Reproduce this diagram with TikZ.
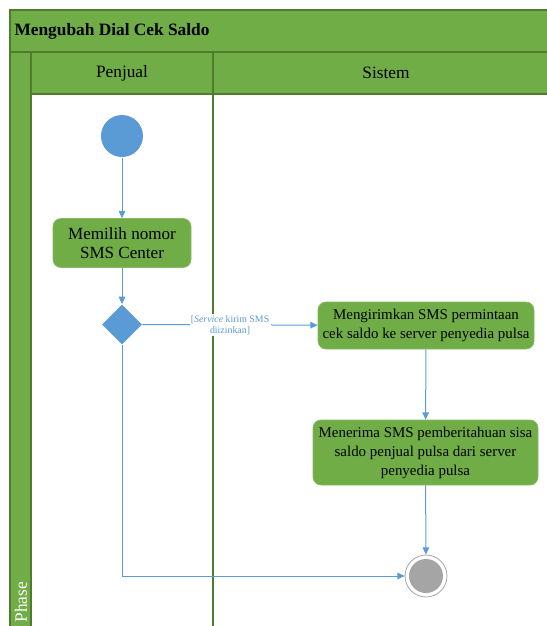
\documentclass[tikz,border=0pt]{standalone}
\usepackage{fontspec}
\setmainfont{Liberation Serif}
\usetikzlibrary{arrows.meta,shapes.geometric}

\definecolor{lanegreen}{RGB}{112,173,71}
\definecolor{linegreen}{RGB}{80,122,46}
\definecolor{flowblue}{RGB}{91,155,213}
\definecolor{endgray}{RGB}{165,165,165}

\tikzset{every picture/.style={line width=0.75pt}}
\tikzset{
  actbox/.style={rectangle, rounded corners=6pt, fill=lanegreen, draw=lanegreen!85!white, line width=0.5pt, align=center, font=\fontsize{11.2}{14.2}\selectfont, inner sep=0pt},
  flow/.style={draw=flowblue, line width=0.75pt, -{Triangle[length=5.5pt,width=5pt]}},
}

\begin{document}
\begin{tikzpicture}[x=0.75pt,y=0.75pt,yscale=-1,xscale=1]
	\useasboundingbox (0,0) rectangle (547,626);

	%Shape: Rectangle (title band)
	\draw [draw=linegreen, fill=lanegreen, line width=1pt] (10,10) rectangle (560,52) ;
	%Shape: Rectangle (phase column)
	\draw [draw=linegreen, fill=lanegreen, line width=1pt] (10,52) rectangle (31,640) ;
	%Shape: Rectangle (lane header)
	\draw [draw=linegreen, fill=lanegreen, line width=1pt] (31,52) rectangle (560,94) ;
	%Straight Lines (lane divider)
	\draw [draw=linegreen, line width=1pt] (213,52) -- (213,640) ;

	% Text Node
	\node [anchor=west, inner sep=0pt, font=\fontsize{13}{15}\selectfont\bfseries] (title) at (14,31) {Mengubah Dial Cek Saldo};
	% Text Node
	\node [font=\fontsize{13}{15}\selectfont] (penjual) at (122,73) {Penjual};
	% Text Node
	\node [font=\fontsize{13}{15}\selectfont] (sistem) at (386,73) {Sistem};
	% Text Node
	\node [rotate=90, anchor=west, inner sep=0pt, text=white, font=\fontsize{13}{15}\selectfont] (phase) at (21,623) {Phase};

	%Shape: Circle (start)
	\node [circle, fill=flowblue, minimum size=42*0.75pt, inner sep=0pt] (start) at (122,136) {};
	%Shape: Rounded Rectangle
	\node [actbox, font=\fontsize{12.8}{14.5}\selectfont, minimum width=138*0.75pt, minimum height=49*0.75pt] (pilih) at (122,243) {Memilih nomor\\SMS Center};
	%Shape: Diamond
	\node [diamond, fill=flowblue, minimum size=40*0.75pt, inner sep=0pt] (cek) at (122,324.5) {};
	%Shape: Rounded Rectangle
	\node [actbox, minimum width=216*0.75pt, minimum height=47*0.75pt] (kirim) at (426,325.5) {Mengirimkan SMS permintaan\\cek saldo ke server penyedia pulsa};
	%Shape: Rounded Rectangle
	\node [actbox, minimum width=225*0.75pt, minimum height=65*0.75pt] (terima) at (425.5,452.5) {Menerima SMS pemberitahuan sisa\\saldo penjual pulsa dari server\\penyedia pulsa};
	%Shape: Circle (end)
	\node [circle, draw=endgray, line width=0.6pt, fill=white, minimum size=42*0.75pt, inner sep=0pt] (akhir) at (426,576) {};
	\node [circle, fill=endgray, minimum size=34*0.75pt, inner sep=0pt] (akhirdot) at (akhir) {};

	%Straight Lines
	\draw [flow] (start) -- (pilih) ;
	\draw [flow] (pilih) -- (cek) ;
	\draw [flow] (cek) -- node [fill=white, text=flowblue, align=center, inner sep=1pt, font=\fontsize{7.4}{8.4}\selectfont] (izin) {[\textit{Service} kirim SMS\\diizinkan]} (kirim) ;
	\draw [flow] (kirim) -- (terima) ;
	\draw [flow] (terima) -- (akhir) ;
	\draw [flow] (cek) |- (akhir) ;

\end{tikzpicture}
\end{document}
